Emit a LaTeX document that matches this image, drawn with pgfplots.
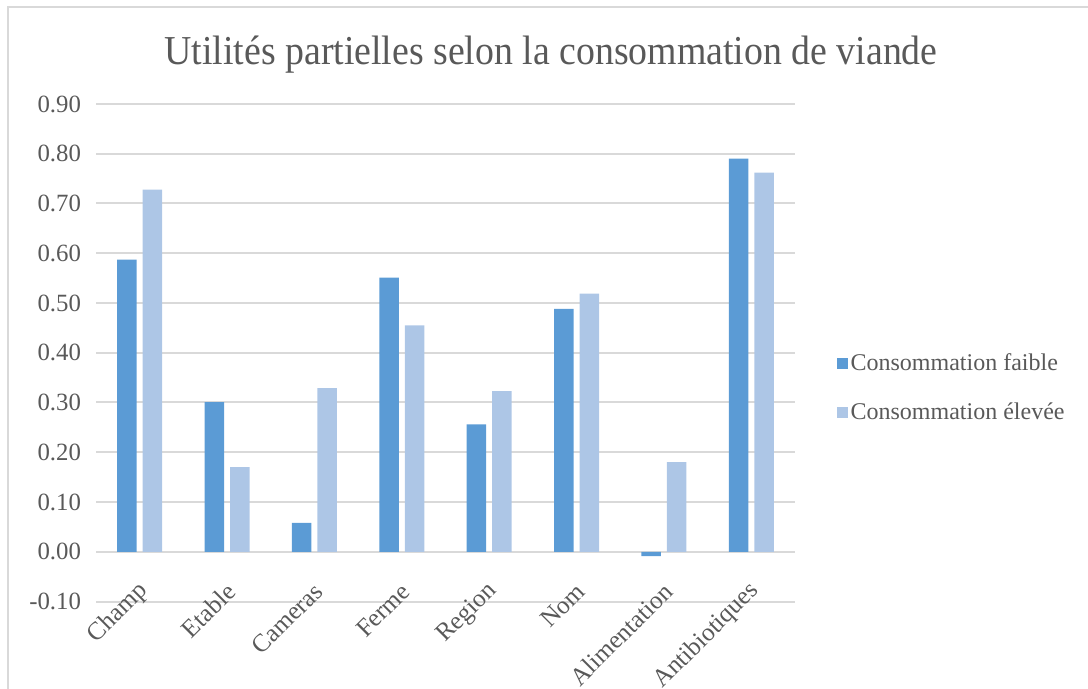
\documentclass[border=0pt]{standalone}
\usepackage{fontspec}
\setmainfont{Liberation Serif}
\usepackage{pgfplots}
\pgfplotsset{compat=1.18}
\definecolor{faible}{HTML}{5B9BD5}
\definecolor{elevee}{HTML}{ADC6E6}
\definecolor{gridgray}{HTML}{D9D9D9}
\definecolor{txt}{HTML}{595959}
\begin{document}
\begin{tikzpicture}
\useasboundingbox (0,0) rectangle (544pt,-344.5pt);
\draw[gridgray, line width=1pt] (3.75pt,-345pt) -- (3.75pt,-3.75pt) -- (545pt,-3.75pt);
\node[txt, font=\fontsize{19.2}{22}\selectfont] at (275.5pt,-27.5pt) {\scalebox{0.985}[1.07]{Utilités partielles selon la consommation de viande}};
\begin{axis}[
  at={(48pt,-300.75pt)}, anchor=south west,
  scale only axis, width=349.5pt, height=248.75pt,
  xmin=-0.5, xmax=7.5, ymin=-0.1, ymax=0.9,
  ybar, bar width=9.75pt,
  axis line style={draw=none},
  major tick length=0pt,
  ymajorgrids, grid style={color=gridgray, line width=1pt},
  ytick={-0.1,0,0.1,0.2,0.3,0.4,0.5,0.6,0.7,0.8,0.9},
  /pgf/number format/assume math mode=true,
  yticklabel style={/pgf/number format/fixed, /pgf/number format/fixed zerofill, /pgf/number format/precision=2, font=\fontsize{12.4}{14}\selectfont, text=txt, xshift=-4pt},
  xtick={0,...,7},
  xticklabels={Champ,Etable,Cameras,Ferme,Region,Nom,Alimentation,Antibiotiques},
  xticklabel style={xshift=4.5pt, yshift=9.5pt, rotate=45, anchor=east, font=\fontsize{12.6}{14}\selectfont, text=txt},
  legend style={at={(1.059,0.429)}, anchor=west, draw=none, fill=none, font=\fontsize{12}{14}\selectfont, text=txt, row sep=11.5pt, inner sep=0pt, nodes={inner sep=1.5pt}},
  legend cell align=left,
  legend image code/.code={\fill[#1] (-1pt,-2.75pt) rectangle (4.5pt,2.75pt);},
]
\addplot[fill=faible, draw=none, bar shift=-6.4pt] coordinates {(0,0.587) (1,0.301) (2,0.058) (3,0.551) (4,0.256) (5,0.488) (6,-0.009) (7,0.790)};
\addplot[fill=elevee, draw=none, bar shift=6.4pt] coordinates {(0,0.728) (1,0.170) (2,0.329) (3,0.455) (4,0.323) (5,0.519) (6,0.180) (7,0.762)};
\legend{Consommation faible, Consommation élevée}
\end{axis}
\end{tikzpicture}
\end{document}
